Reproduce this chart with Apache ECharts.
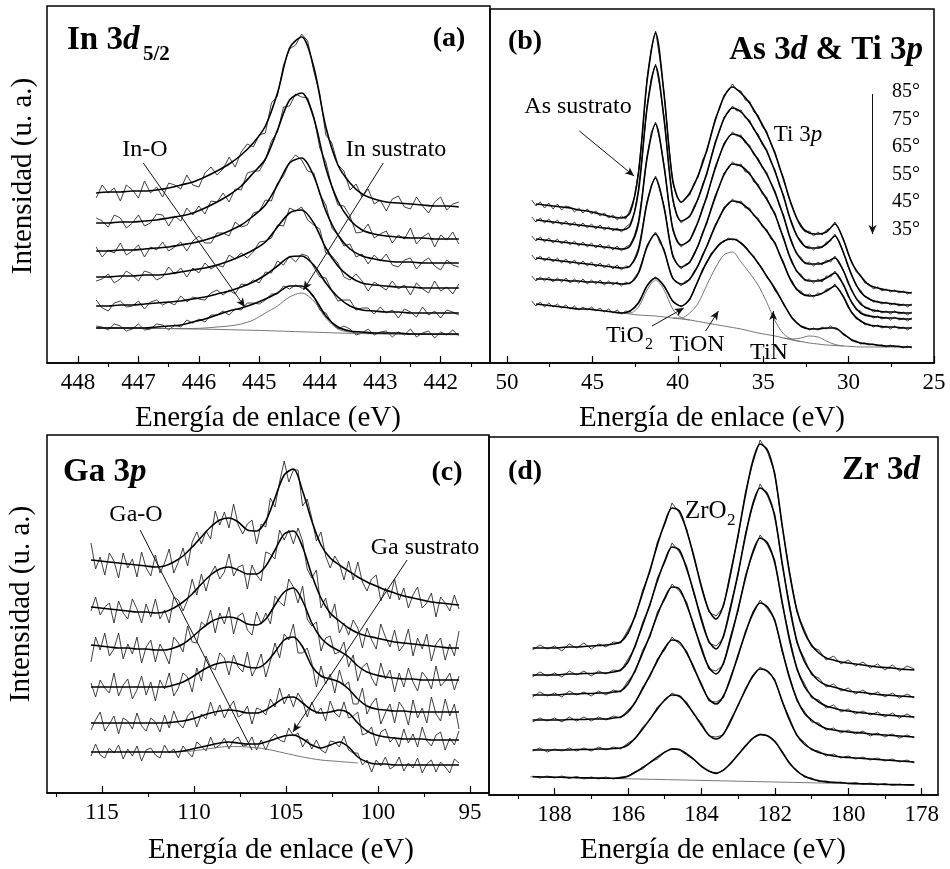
<!DOCTYPE html>
<html><head><meta charset="utf-8">
<script src="https://cdn.jsdelivr.net/npm/echarts@6/dist/echarts.min.js"></script>
<style>html,body{margin:0;padding:0;background:#fff}#c{width:950px;height:869px}</style>
</head><body><div id="c"></div>
<script>
// ---------- Panel (a) In 3d5/2 : fits every 0.2 eV from 447.7, raw every 0.1 eV from 447.7 ----------
const aFitStart = 447.7, aFitStep = -0.2, aRawStart = 447.7, aRawStep = -0.1;
const aFit1 = [170,171,171,172,172,173,175,178,181,186,192,199,208,220,237,270,315,326,296,236,198,180,169,164,161,160,159,158,157,157,156];
const aFit2 = [140,140,141,141,142,143,145,147,150,155,161,168,177,190,204,233,263,270,245,195,162,143,133,129,127,126,125,125,124,124,124];
const aFit3 = [112,112,113,113,114,115,116,118,120,123,127,132,138,147,158,178,200,205,187,152,128,114,107,104,102,101,101,100,100,100,100];
const aFit4 = [86,86,87,87,88,88,89,91,93,95,98,102,107,113,121,136,150,153,140,115,97,86,80,78,77,76,76,75,75,75,75];
const aFit5 = [57,57,58,58,59,60,61,62,64,66,69,72,76,81,88,97,106,107,98,80,66,57,53,52,51,51,50,50,50,50,50];
const aFit6 = [35,35,35,35,35,36,37,38,41,44,48,52,55,59,64,70,77,77,66,47,36,32,31,30,30,30,29,29,29,29,29];
const aBg   = [35,35,35,35,34.8,34.6,34.4,34.2,34,33.8,33.6,33.3,33,32.7,32.4,32,31.6,31.2,30.8,30.4,30,29.7,29.4,29.2,29,28.8,28.7,28.6,28.5,28.4,28.3];
const aSub  = [35,35,35,35,34.8,34.6,34.5,34.4,34.5,35,36,37,39,43,50,57,66,70,62,45,34,31,30,29.7,29.4,29.2,29,28.8,28.7,28.6,28.5];
const aRaw1 = [165,178,170,175,162,178,173,165,182,170, 176,166,180,178,174,188,178,176,190,196, 188,194,206,196,211,219,216,228,230,260, 267,298,314,318,329,322,292,269,228,220, 198,192,173,179,166,174,159,163,152,164, 167,156,154,166,157,150,161,166,153,159, 161];
const aRaw2 = [145,142,136,148,145,135,140,148,137,140, 149,148,137,147,142,155,148,157,149,162, 161,170,161,174,173,190,192,192,203,222, 231,256,257,269,266,265,247,215,201,176, 158,157,147,130,131,139,125,129,132,120, 128,124,135,119,126,130,116,128,123,131, 119];
const aRaw3 = [116,106,113,110,120,108,112,118,106,116, 113,121,112,116,121,112,122,127,120,120, 130,130,127,141,136,138,150,152,163,162, 180,187,201,208,203,192,190,169,158,135, 128,117,119,106,109,99,108,102,109,98, 96,103,105,94,101,105,97,93,103,98, 96];
const aRaw4 = [82,84,89,80,84,92,88,82,92,90, 83,86,96,89,95,86,95,90,100,94, 98,96,108,104,110,105,111,121,122,125, 138,137,155,152,156,143,138,134,110,107, 100,86,83,89,82,72,81,77,73,82, 74,78,68,80,74,70,82,72,76,69, 79];
const aRaw5 = [63,55,52,60,62,56,57,62,54,61, 63,58,61,58,67,61,66,64,63,70, 73,68,73,69,79,78,83,80,91,90, 102,98,107,101,109,107,96,86,85,72, 62,63,63,53,55,55,49,56,50,53, 45,54,51,46,56,48,52,45,53,51, 48];
const aRaw6 = [37,36,33,39,37,32,34,39,33,34, 39,38,33,38,36,43,40,44,41,48, 48,52,48,54,53,60,60,59,63,69, 69,77,74,78,75,74,67,53,50,40, 34,37,34,28,30,34,28,31,32,26, 31,28,34,26,30,32,25,31,28,33, 27];
const aMajor = [448,447,446,445,444,443,442];
const aMinor = [447.5,446.5,445.5,444.5,443.5,442.5,441.5];

// ---------- Panel (b) As 3d & Ti 3p : fits every 0.5 eV from 48.3, raw every 0.25 eV from 48.55 ----------
const bFitStart = 48.3, bFitStep = -0.5, bRawStart = 48.55, bRawStep = -0.25;
const bFit1 = [159,158,157,156,155,153,152,150,148,146, 145,150,190,282,330,268,183,161,170,188, 213,243,266,276,270,260,246,230,209,183, 156,137,130,129,131,139,123,100,87,78, 75,73,72,71,70];
const bFit2 = [143,142,141,140,139,138,137,136,135,134, 133,137,172,255,297,243,165,142,147,165, 190,220,244,255,251,241,227,212,191,166, 138,121,115,115,119,127,110,87,71,64, 61,60,59,58,58];
const bFit3 = [124,123,122,121,120,119,118,117,116,115, 114,117,140,205,239,196,135,118,123,142, 167,195,218,229,226,216,203,189,170,146, 119,104,99,99,101,105,92,72,59,54, 52,51,51,50,50];
const bFit4 = [105,104,103,102,101,100,99,98,97,96, 95,97,113,160,185,155,108,96,101,118, 141,166,188,199,197,189,177,164,148,124, 100,87,82,82,85,90,78,60,50,47, 46,45,45,44,44];
const bFit5 = [84,84,83,83,82,82,81,81,80,80, 79,80,90,116,129,112,85,79,84,98, 117,137,154,162,160,153,143,132,119,99, 80,70,67,68,72,77,66,50,42,38, 37,36,36,35,35];
const bFit6 = [59,58,57,56,55,54,54,53,52,51, 50,52,60,77,85,77,62,57,64,83, 101,114,122,124,120,111,100,87,74,59, 45,37,34,34,35,35,29,23,20,19, 18,17,17,16,16];
const bRaw1 = [163,157,161,155,160,154,159,153,157,156, 151,155,150,154,149,152,147,150,145,148, 143,147,144,153,165,192,233,285,314,332, 304,270,222,181,166,160,165,168,180,186, 203,211,229,245,254,268,272,279,273,272, 263,262,251,248,236,232,219,211,195,185, 168,157,145,139,131,132,127,131,128,133, 135,141,133,124,110,101,91,88,80,79, 74,76,72,74,71,73,70,72,69,71];
const bRaw2 = [146,141,145,140,144,139,143,138,142,137, 141,136,140,135,139,134,138,133,136,132, 135,131,136,139,150,174,212,257,285,299, 276,245,201,163,147,140,144,146,157,164, 179,188,206,222,232,246,250,257,252,253, 245,243,233,229,218,214,201,193,177,168, 150,140,127,123,116,117,113,117,115,121, 122,129,120,111,97,88,77,73,66,65, 61,62,59,61,58,60,57,59,56,59];
const bRaw3 = [127,122,126,121,125,120,124,119,123,118, 122,117,121,116,120,115,119,114,118,113, 117,112,116,118,127,142,172,207,231,241, 223,198,163,133,121,116,120,122,133,141, 156,165,182,197,207,220,225,231,227,228, 220,218,208,205,195,191,180,172,157,148, 131,121,109,106,99,101,97,101,98,103, 101,107,99,93,80,73,64,61,55,55, 51,53,50,52,49,52,49,51,48,51];
const bRaw4 = [108,103,107,102,106,101,105,100,104,99, 103,98,102,97,101,96,100,95,99,94, 98,93,97,96,104,115,137,162,178,187, 172,157,131,106,99,94,99,100,110,117, 131,139,155,168,177,190,194,201,197,199, 191,191,181,179,169,166,155,150,135,126, 110,102,91,89,82,84,80,84,81,87, 86,92,84,79,67,61,53,52,47,48, 45,47,44,46,43,46,43,45,42,45];
const bRaw5 = [87,82,86,82,86,81,85,81,85,80, 84,80,84,79,83,79,83,78,82,78, 81,77,81,79,85,91,104,118,125,131, 120,114,97,84,81,77,82,83,92,97, 109,116,128,139,145,156,158,164,160,162, 155,155,147,145,136,134,124,121,108,101, 88,82,73,72,67,69,66,70,69,74, 74,79,72,67,56,51,44,43,38,39, 36,38,35,37,34,37,34,36,33,36];
const bRaw6 = [62,57,61,56,60,56,59,55,58,54, 57,53,56,53,56,52,55,51,54,50, 53,49,52,51,56,61,69,78,83,86, 82,76,70,61,59,56,59,63,74,82, 94,100,110,113,120,121,125,123,124,119, 117,110,107,99,95,86,81,72,67,58, 52,44,41,36,36,33,35,33,36,34, 37,34,33,28,26,22,22,19,20,18, 19,17,18,16,18,16,17,15,17,15];
const bBg   = [50,49,48,47.5,47,46,45,44,43,41.5, 40,38.5,37,35.5,34,32,30,28.5,27,25, 23,21.5,20,19,18,17.5,17,16.5,16,16, 16,16,16,16,16];          // from 43.3, step -0.5
const bAs   = [50,50,56,73,83,73,54,45.5,43];                                 // from 43.3, step -0.5
const bTiON = [45,45,50,60,78,95,108,111,101,90,78,61,42,29,23.5,21.5];       // from 40.3, step -0.5
const bTiN  = [25,24,25,27,26,22,18.5,17];                                    // from 33.8, step -0.5
const bMajor = [50,45,40,35,30,25];
const bMinor = [47.5,42.5,37.5,32.5,27.5];
const bAngles = ['85°','75°','65°','55°','45°','35°'];

// ---------- Panel (c) Ga 3p : fits every 0.5 eV from 115.6, raw every 0.25 eV from 115.6 ----------
const cFitStart = 115.6, cFitStep = -0.5, cRawStart = 115.6, cRawStep = -0.25;
const cFit1 = [233,232,231,230,229,228,227,226,227,231, 237,246,256,266,273,275,271,263,262,272, 295,318,324,302,272,248,235,228,222,216, 211,207,203,200,197,195,193,191,190,189, 188];
const cFit2 = [186,185,184,183,182,181,181,180,181,185, 191,199,209,218,224,226,223,219,219,227, 243,259,262,246,218,195,180,172,165,160, 157,155,153,151,150,149,148,147,146,145, 145];
const cFit3 = [148,147,146,145,145,144,144,143,143,145, 149,156,164,171,175,176,174,169,168,174, 188,201,205,192,170,155,147,142,136,127, 121,118,116,115,114,114,113,113,113,113, 113];
const cFit4 = [106,106,106,106,106,106,106,106,106,108, 111,116,122,127,130,131,129,126,125,130, 141,153,156,146,127,117,114,111,104,94, 87,84,83,82,82,81,81,81,81,81, 81];
const cFit5 = [70,70,70,70,70,70,70,70,70,71, 72,74,77,80,82,83,82,80,80,83, 89,95,96,90,83,80,81,83,80,70, 62,58,56,55,54,54,54,53,53,53, 53];
const cFit6 = [41,41,41,41,41,41,41,41,41,41, 42,44,46,48,50,51,50,49,49,51, 54,57,58,54,48,45,48,51,46,36, 31,29,29,28,28,28,28,28,28,28, 28];
const cRaw1 = [250,224,236,218,240,232,215,240,225,234, 216,241,225,217,238,220,230,244,220,231, 245,227,251,261,249,262,254,282,268,281, 265,289,268,259,269,273,249,269,266,295, 286,311,332,311,323,323,287,294,275,252, 261,237,225,237,229,213,232,213,231,211, 202,214,218,192,205,194,214,193,205,185, 198,206,185,190,200,176,196,190,182,198, 184];
const cRaw2 = [182,196,178,186,190,170,192,180,174,194, 184,170,189,176,194,174,183,170,196,193, 182,193,214,198,219,202,219,227,214,221, 239,217,226,228,204,228,218,212,241,239, 234,263,253,263,249,265,252,224,215,223, 185,195,175,189,160,170,158,173,165,145, 165,153,144,169,156,146,163,142,148,164, 137,155,144,159,132,149,155,133,149,137, 162];
const cRaw3 = [131,156,143,160,137,144,160,134,149,139, 156,130,146,153,131,149,140,129,156,150, 141,167,151,150,171,167,183,160,180,169, 186,159,177,180,163,158,181,169,180,169, 197,191,187,214,206,190,207,174,167,171, 142,155,157,139,141,151,126,138,112,126, 130,115,107,130,114,123,101,120,106,125, 111,102,121,115,104,127,107,112,120,103, 117];
const cRaw4 = [110,96,113,105,100,120,97,108,114,94, 103,117,98,111,92,113,104,120,97,105, 120,116,101,125,112,137,126,123,140,135, 118,138,126,121,141,117,126,139,116,132, 150,135,159,153,169,140,140,145,130,106, 127,109,119,100,123,107,111,89,89,105, 79,89,95,69,80,89,70,91,84,68, 93,75,85,70,96,79,72,94,77,89, 64];
const cRaw5 = [63,73,81,62,69,77,59,75,72,64, 80,67,62,75,71,61,78,65,82,70, 65,77,82,66,79,74,91,77,88,75, 85,92,76,79,87,69,85,83,78,94, 86,105,89,99,86,100,92,76,91,79, 85,72,92,80,76,91,75,77,81,58, 60,66,47,61,64,51,56,46,64,50, 59,46,66,52,47,58,61,43,55,48, 62];
const cRaw6 = [37,49,38,35,45,40,48,34,44,37, 47,32,43,45,38,35,48,40,44,35, 47,41,36,51,47,42,56,45,48,55, 44,53,56,47,48,56,43,53,43,54, 59,53,51,65,57,60,46,54,44,53, 43,40,52,51,46,57,43,40,40,28, 33,21,33,27,36,24,27,36,22,30, 25,35,20,29,33,21,31,26,20,34, 30];
const cComp = [41,42,44.5,46.5,46,44,40,36,33,31.5,30];                      // from 111.1, step -1
const cMajor = [115,110,105,100,95];
const cMinor = [117.5,112.5,107.5,102.5,97.5];

// ---------- Panel (d) Zr 3d : fits and raw every 0.2 eV from 188.6 ----------
const dFitStart = 188.6, dFitStep = -0.2, dRawStart = 188.6, dRawStep = -0.2;
const dFit1 = [147,147,147,147,147.5,148,148,148.5,149,149.5, 150,151,153,162,180,202,225,250,272,287, 284,264,238,208,185,176,190,222,260,300, 334,351,345,320,270,222,185,163,150,142, 137,135,133,132,131,130,129,128,127.5,127, 126,125.5,125];
const dFit2 = [120,120,120,120,120.5,121,121,121.5,121.5,122, 122,123,125,133,150,170,191,214,234,248, 245,226,202,175,154,146,159,188,222,259, 291,307,301,278,232,188,154,134,122,114, 110,108,106,104,103,102.5,101.5,100.5,100,99.5, 99,98.5,98];
const dFit3 = [100,100,100,100,100.5,101,101,101.5,101.5,102, 102,103,104,111,125,142,160,180,197,208, 206,190,169,146,128,121,132,157,186,217, 243,257,252,232,193,155,127,109,99,93, 89,87,85,84,83,82,81.5,80.5,80,79.5, 79,78.5,78];
const dFit4 = [75,75,75,75,75,75.5,75.5,75.5,76,76, 76,77,78,83,93,106,120,134,147,155, 153,142,127,110,96,91,99,117,140,162, 182,192,188,174,145,117,96,82,75,70, 66.5,65,64,63,62.5,62,61,60.5,60,59.5, 59,58.5,58];
const dFit5 = [45,45,45,45,45,45,45.5,45.5,45.5,46, 46,46.5,47,50,57,66,76,86,95,100, 99,91,81,70,60,56,61,74,90,105, 119,126,124,114,94,75,60,51,46,42.5, 40.5,39,38,37.5,37,36.5,36,35.5,35,34.5, 34,33.5,33];
const dFit6 = [18.3,18.1,18,17.8,17.7,17.5,17.4,17.2,17.1,16.9, 16.8,16.7,17.1,18.8,22.7,27.5,32.4,37.9,42.7,46.1, 45.5,41.1,35.5,28.9,24,21.9,24.9,31.9,40.2,49.1, 56.6,60.4,59.2,53.7,42.8,32,24,19,16,14.3, 13.1,12.7,12.2,11.8,11.4,11.2,11,10.8,10.6,10.5, 10.3,10.2,10];
const dRaw1 = [145,150,146,149,144,151,147,152,146,151, 148,153,152,165,178,205,223,253,270,292, 282,266,236,210,183,179,188,225,258,303, 332,355,343,322,268,224,183,166,148,145, 135,139,131,135,129,133,127,131,125,130, 124,129,126];
const dRaw2 = [118,123,119,122,118,124,120,124,119,124, 121,125,124,136,148,173,189,217,232,252, 243,229,200,178,152,149,157,191,220,262, 289,311,299,281,230,191,152,137,120,117, 108,111,104,107,101,105,100,103,98,102, 97,101,97];
const dRaw3 = [98,103,99,102,98,104,100,103,99,104, 100,105,103,114,123,145,158,183,195,211, 204,193,167,149,126,124,130,160,184,220, 241,260,250,235,191,158,125,112,97,95, 87,90,83,86,81,84,80,83,78,82, 77,81,77];
const dRaw4 = [73,77,74,77,73,78,74,78,74,78, 75,79,77,85,92,108,118,136,145,158, 151,144,125,112,94,93,97,119,138,164, 180,195,186,176,143,119,94,84,73,72, 65,67,62,65,61,64,59,62,58,61, 57,60,57];
const dRaw5 = [44,47,43,46,44,47,44,47,44,48, 45,48,46,52,56,68,75,88,94,102, 98,93,80,72,59,58,60,76,89,107, 118,128,123,116,93,77,59,53,45,44, 39,41,37,39,36,38,35,37,34,36, 33,35,32];
const dRaw6 = [19,17,19,17,19,16.5,18.5,16,18,16, 18,16,18,19,23.5,26,33,36,43,46, 45,40,35,28,24,21,25,31,41,48, 57,61,59,53,44,31,25,18,17,13.5, 14,12,13,11,12.5,10.5,12,10,11.5,9.5, 11,9.5,10.5];
const dBgE = [188.66,178.22], dBgV = [18.3,10];
const dMajor = [188,186,184,182,180,178];
const dMinor = [189,187,185,183,181,179];

// ---------------- build ----------------
const FONT = '"Liberation Serif","Times New Roman",serif';
function pts(start, step, vals){ return vals.map((v,i)=>[Math.round((start+i*step)*1000)/1000, v]); }

const panels = [
  {grid:{left:47,top:6,width:443,height:357}, min:441.184, max:448.513, major:aMajor, minor:aMinor,
   fits:[aFit1,aFit2,aFit3,aFit4,aFit5,aFit6].map(v=>pts(aFitStart,aFitStep,v)),
   raws:[aRaw1,aRaw2,aRaw3,aRaw4,aRaw5,aRaw6].map(v=>pts(aRawStart,aRawStep,v)),
   comps:[pts(aFitStart,aFitStep,aBg), pts(aFitStart,aFitStep,aSub)],
   arrows:[[[446.92,200],[445.24,56],true],[[442.95,200],[444.27,73],true]]},
  {grid:{left:490,top:9,width:444,height:354}, min:25, max:50.995, major:bMajor, minor:bMinor,
   fits:[bFit1,bFit2,bFit3,bFit4,bFit5,bFit6].map(v=>pts(bFitStart,bFitStep,v)),
   raws:[bRaw1,bRaw2,bRaw3,bRaw4,bRaw5,bRaw6].map(v=>pts(bRawStart,bRawStep,v)),
   comps:[pts(43.3,-0.5,bBg), pts(43.3,-0.5,bAs), pts(40.3,-0.5,bTiON), pts(33.8,-0.5,bTiN)],
   arrows:[[[45.76,232],[42.56,187],true],[[41.51,37],[39.65,55],true],[[38.37,32],[37.62,52],true],
           [[34.42,19],[34.42,52],true],[[28.6,269],[28.6,129],true]]},
  {grid:{left:47,top:435,width:442,height:358}, min:93.97, max:117.99, major:cMajor, minor:cMinor,
   fits:[cFit1,cFit2,cFit3,cFit4,cFit5,cFit6].map(v=>pts(cFitStart,cFitStep,v)),
   raws:[cRaw1,cRaw2,cRaw3,cRaw4,cRaw5,cRaw6].map(v=>pts(cRawStart,cRawStep,v)),
   comps:[pts(111.1,-1,cComp)],
   arrows:[[[112.93,263],[106.85,43],false],[[98.42,233],[104.62,61],true]]},
  {grid:{left:489,top:437,width:449,height:358}, min:177.555, max:189.786, major:dMajor, minor:dMinor,
   fits:[dFit1,dFit2,dFit3,dFit4,dFit5,dFit6].map(v=>pts(dFitStart,dFitStep,v)),
   raws:[dRaw1,dRaw2,dRaw3,dRaw4,dRaw5,dRaw6].map(v=>pts(dRawStart,dRawStep,v)),
   comps:[dBgE.map((e,i)=>[e,dBgV[i]])],
   arrows:[]}
];

const grid=[], xAxis=[], yAxis=[], series=[];
panels.forEach((p,k)=>{
  grid.push(Object.assign({show:true,borderColor:'#000',borderWidth:1.5,backgroundColor:'transparent'},p.grid));
  yAxis.push({type:'value',gridIndex:k,min:0,max:p.grid.height,show:false});
  xAxis[k] = {type:'value',gridIndex:k,inverse:true,min:p.min,max:p.max,
    axisLine:{show:true,onZero:false,lineStyle:{color:'#000',width:1.5}},
    axisTick:{show:true,inside:true,length:7,customValues:p.major,lineStyle:{color:'#000',width:1.2}},
    axisLabel:{show:true,customValues:p.major,color:'#000',fontFamily:FONT,fontSize:23,margin:8},
    splitLine:{show:false}, minorTick:{show:false}};
  xAxis[k+4] = {type:'value',gridIndex:k,inverse:true,min:p.min,max:p.max,
    axisLine:{show:false},
    axisTick:{show:true,inside:true,length:4,customValues:p.minor,lineStyle:{color:'#000',width:1.1}},
    axisLabel:{show:false}, splitLine:{show:false}};
  p.raws.forEach(d=>series.push({type:'line',xAxisIndex:k,yAxisIndex:k,data:d,symbol:'none',showSymbol:false,
    smooth:false,silent:true,z:2,lineStyle:{color:'#2a2a2a',width:0.9}}));
  p.fits.forEach(d=>series.push({type:'line',xAxisIndex:k,yAxisIndex:k,data:d,symbol:'none',showSymbol:false,
    smooth:0.3,silent:true,z:3,lineStyle:{color:'#000',width:1.6}}));
  p.comps.forEach((d,j)=>{
    const s={type:'line',xAxisIndex:k,yAxisIndex:k,data:d,symbol:'none',showSymbol:false,smooth:0.3,silent:true,z:2,
      lineStyle:{color:'#666',width:0.9}};
    if(j===0 && p.arrows.length){
      s.markLine={silent:true,animation:false,label:{show:false},lineStyle:{color:'#111',width:1,type:'solid'},
        symbolSize:[6,9],
        data:p.arrows.map(a=>[{coord:a[0],symbol:'none'},{coord:a[1],symbol:a[2]?'arrow':'none'}])};
    }
    series.push(s);
  });
});

function T(x,y,text,size,opt){
  opt=opt||{};
  return {type:'text',x:x,y:y,z:100,rotation:opt.rot||0,
    style:Object.assign({text:text,fill:'#000',font:(opt.weight||'normal')+' '+size+'px '+FONT,
      textAlign:opt.align||'center',textVerticalAlign:'middle'},opt.rich?{rich:opt.rich}:{})};
}
function richBI(size,weight){
  return {r:{fontFamily:FONT,fontSize:size,fontWeight:weight,fill:'#000',color:'#000'},
          i:{fontFamily:FONT,fontSize:size,fontWeight:weight,fontStyle:'italic',fill:'#000',color:'#000'}};
}
const axTitle='Energía de enlace (eV)', yTitle='Intensidad (u. a.)';
const g=[
  T(23,176,yTitle,29,{rot:Math.PI/2}), T(21,604,yTitle,29,{rot:Math.PI/2}),
  T(268,418,axTitle,29), T(712,418,axTitle,29), T(281,850,axTitle,29), T(713,850,axTitle,29),
  T(67,40,'{r|In 3}{i|d}',33,{align:'left',weight:'bold',rich:richBI(33,'bold')}),
  T(143,55,'5/2',21,{align:'left',weight:'bold'}),
  T(449,39,'(a)',28,{weight:'bold'}), T(525,42,'(b)',28,{weight:'bold'}),
  T(447,473,'(c)',28,{weight:'bold'}), T(525,472,'(d)',28,{weight:'bold'}),
  T(923,50,'{r|As 3}{i|d}{r| & Ti 3}{i|p}',33,{align:'right',weight:'bold',rich:richBI(33,'bold')}),
  T(63,472,'{r|Ga 3}{i|p}',33,{align:'left',weight:'bold',rich:richBI(33,'bold')}),
  T(920,470,'{r|Zr 3}{i|d}',33,{align:'right',weight:'bold',rich:richBI(33,'bold')}),
  T(145,150,'In-O',24), T(396,150,'In sustrato',24), T(578,107,'As sustrato',24),
  T(798,135,'{r|Ti 3}{i|p}',23,{rich:richBI(23,'normal')}),
  T(606,336,'TiO',24,{align:'left'}), T(645,345,'2',16,{align:'left'}),
  T(697,345,'TiON',24), T(769,353,'TiN',24),
  T(136,515,'Ga-O',24), T(425,548,'Ga sustrato',24),
  T(685,511,'ZrO',25,{align:'left'}), T(727,521,'2',17,{align:'left'})
];
const angY=[92,120,147,175,202,230];
bAngles.forEach((t,i)=>g.push(T(906,angY[i],t,20)));

const chart=echarts.init(document.getElementById('c'),null,{renderer:'canvas'});
chart.setOption({animation:false,backgroundColor:'#fff',grid,xAxis,yAxis,series,graphic:{elements:g}});
</script></body></html>
